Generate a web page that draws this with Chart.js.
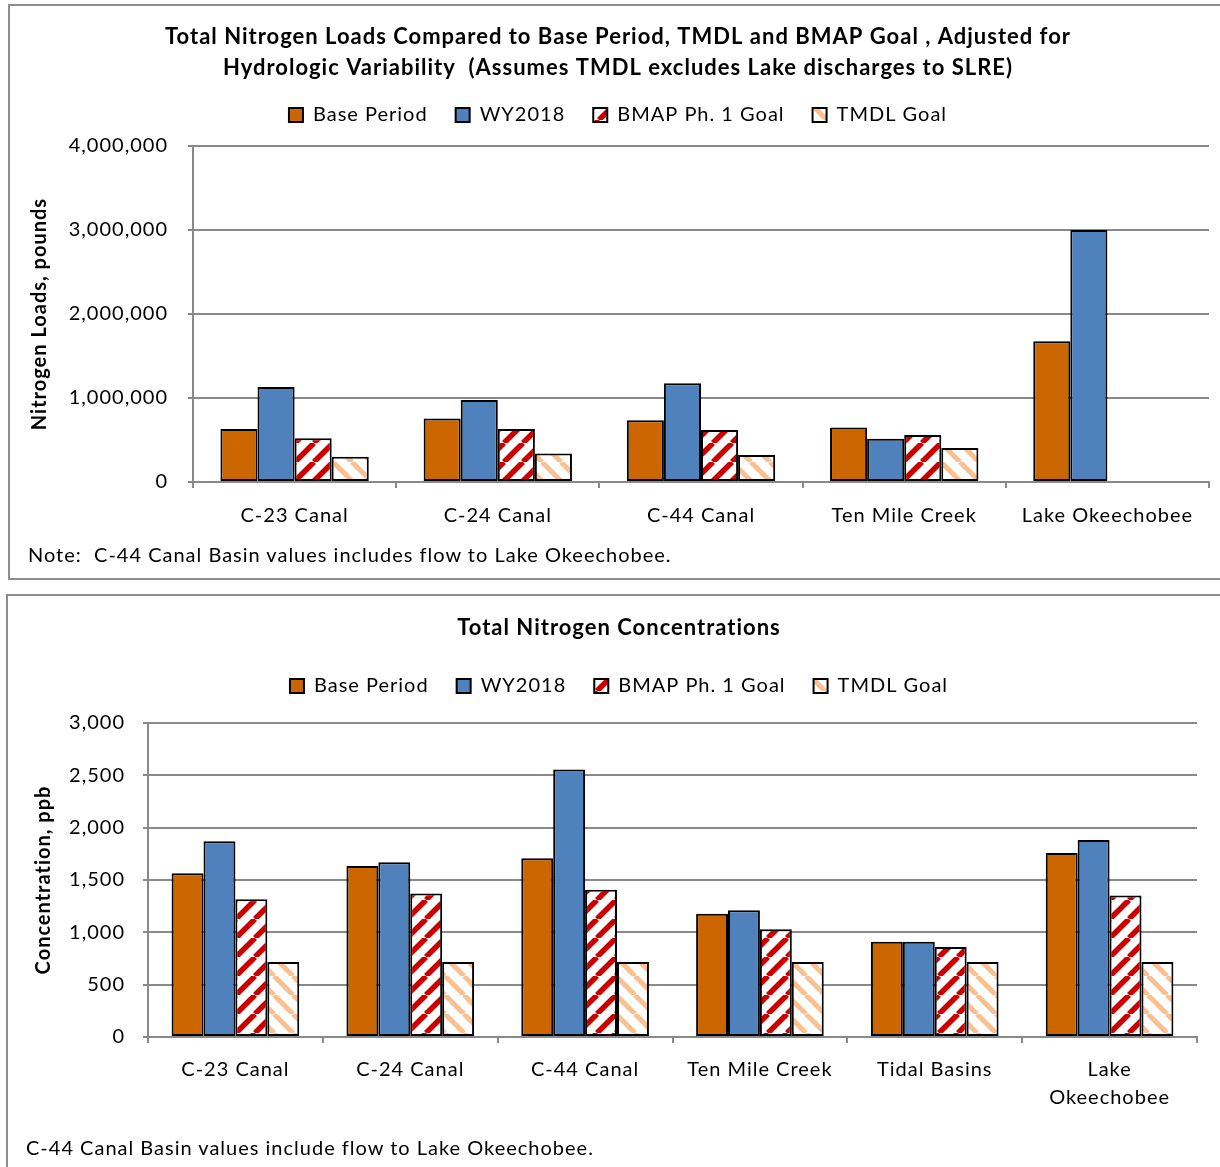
<!DOCTYPE html>
<html>
<head>
<meta charset="utf-8">
<title>Total Nitrogen Loads and Concentrations</title>
<script src="https://cdn.jsdelivr.net/npm/chart.js@4.4.1/dist/chart.umd.min.js"></script>
<style>
  body { margin: 0; background: #fff; width: 1220px; height: 1167px; overflow: hidden; position: relative; font-family: Lato, sans-serif; }
  .frame { position: absolute; border: 2px solid #8c8c8c; background: #fff; }
  #loadsFrame { left: 8px; top: 4px; width: 1230px; height: 572px; }
  #concFrame { left: 6px; top: 594px; width: 1230px; height: 600px; }
  .frame canvas { position: absolute; left: 0; top: 0; }
  .note { position: absolute; font-size: 20px; letter-spacing: 1px; color: #000; white-space: nowrap; line-height: 1; }
</style>
</head>
<body>
<div class="frame" id="loadsFrame">
  <canvas id="loadsChart" width="1220" height="572"></canvas>
  <div class="note" style="left:18px; top:538px;">Note:&nbsp; C-44 Canal Basin values includes flow to Lake Okeechobee.</div>
</div>
<div class="frame" id="concFrame">
  <canvas id="concChart" width="1220" height="571"></canvas>
  <div class="note" style="left:18px; top:541px;">C-44 Canal Basin values include flow to Lake Okeechobee.</div>
</div>
<script>
const seriesNames = ["Base Period", "WY2018", "BMAP Ph. 1 Goal", "TMDL Goal"];

// loads, pounds (adjusted for hydrologic variability)
const loadCategories = ["C-23 Canal", "C-24 Canal", "C-44 Canal", "Ten Mile Creek", "Lake Okeechobee"];
const loadBase = [630000, 755000, 735000, 650000, 1677000];
const loadWY2018 = [1130000, 975000, 1175000, 515000, 3000000];
const loadBmap = [520000, 630000, 620000, 560000, null];
const loadTmdl = [300000, 340000, 320000, 405000, null];

// concentrations, ppb
const concCategories = ["C-23 Canal", "C-24 Canal", "C-44 Canal", "Ten Mile Creek", "Tidal Basins", ["Lake", "Okeechobee"]];
const concBase = [1565, 1635, 1708, 1178, 911, 1759];
const concWY2018 = [1870, 1670, 2555, 1210, 911, 1883];
const concBmap = [1317, 1371, 1406, 1029, 860, 1352];
const concTmdl = [717, 717, 717, 717, 717, 717];

const orange = "#cc6600";
const blue = "#4f81bd";
const grey = "#898989";
const black = "#000000";

Chart.defaults.font.family = "Lato, 'Open Sans', sans-serif";
Chart.defaults.font.size = 20;
Chart.defaults.color = black;

// slightly looser text, set before layout (measuring) and before drawing
const textSpacing = {
  id: "textSpacing",
  beforeUpdate(chart) { chart.ctx.letterSpacing = "1px"; },
  beforeDraw(chart) { chart.ctx.letterSpacing = "1px"; }
};

// diagonal hatch: "/" rises to the right, "\" falls to the right
function stripes(color, dir, size, width) {
  const c = document.createElement("canvas");
  c.width = c.height = size;
  const g = c.getContext("2d");
  g.fillStyle = "#fff";
  g.fillRect(0, 0, size, size);
  g.strokeStyle = color;
  g.lineWidth = width;
  g.beginPath();
  for (let k = -1; k <= 1; k++) {
    if (dir === "/") {
      g.moveTo(k * size, size);
      g.lineTo(k * size + size, 0);
    } else {
      g.moveTo(k * size, 0);
      g.lineTo(k * size + size, size);
    }
  }
  g.stroke();
  return g.createPattern(c, "repeat");
}

const redHatch = stripes("#cc0000", "/", 19, 5.5);
const peachHatch = stripes("#fac090", "\\", 19, 5);

function barSets(base, wy, bmap, tmdl) {
  const common = { borderColor: black, borderWidth: 2, borderSkipped: false, categoryPercentage: 0.73, barPercentage: 1 };
  return [
    { label: seriesNames[0], data: base, backgroundColor: orange, ...common },
    { label: seriesNames[1], data: wy, backgroundColor: blue, ...common },
    { label: seriesNames[2], data: bmap, backgroundColor: redHatch, ...common },
    { label: seriesNames[3], data: tmdl, backgroundColor: peachHatch, ...common }
  ];
}

function makeOptions(cfg) {
  return {
    responsive: false,
    animation: false,
    layout: { padding: { left: cfg.padLeft, right: cfg.padRight, top: 0, bottom: 0 } },
    plugins: {
      title: {
        display: true,
        text: cfg.title,
        color: black,
        font: { size: 22, weight: "bold", lineHeight: 1.41 },
        padding: { top: cfg.titleTop, bottom: cfg.titleBottom }
      },
      legend: {
        position: "top",
        labels: { boxWidth: 14, boxHeight: 14, padding: 28, color: black, font: { size: 20 } }
      },
      // empty line between legend and plot area
      subtitle: {
        display: true,
        text: "",
        weight: 500,
        font: { size: 1, lineHeight: 1 },
        padding: { top: cfg.gap - 1, bottom: 0 }
      },
      tooltip: { enabled: false }
    },
    scales: {
      x: {
        grid: { display: true, drawOnChartArea: false, color: grey, lineWidth: 2, tickLength: 6 },
        border: { display: true, color: grey, width: 2 },
        ticks: { color: black, padding: cfg.xTickPad, maxRotation: 0, autoSkip: false, font: { size: 20, lineHeight: 1.4 } },
        afterFit: s => { s.height = cfg.xHeight; }
      },
      y: {
        min: 0,
        max: cfg.yMax,
        ticks: { stepSize: cfg.yStep, color: black, padding: cfg.yTickPad, font: { size: 20 } },
        grid: { color: grey, lineWidth: 2, tickLength: 5 },
        border: { display: true, color: grey, width: 2 },
        title: {
          display: true,
          text: cfg.yTitle,
          color: black,
          font: { size: 20, weight: "bold", lineHeight: 1.2 },
          padding: { top: cfg.yTitlePad, bottom: 0 }
        },
        afterFit: s => { s.width = cfg.yWidth; }
      }
    }
  };
}

new Chart(document.getElementById("loadsChart"), {
  type: "bar",
  data: { labels: loadCategories, datasets: barSets(loadBase, loadWY2018, loadBmap, loadTmdl) },
  options: makeOptions({
    title: ["Total Nitrogen Loads Compared to Base Period, TMDL and BMAP Goal , Adjusted for",
            "Hydrologic Variability  (Assumes TMDL excludes Lake discharges to SLRE)"],
    titleTop: 15.5, titleBottom: -6.5, gap: 11,
    padLeft: 17, padRight: 21, yWidth: 166, xHeight: 96,
    yMax: 4000000, yStep: 1000000, yTickPad: 20, xTickPad: 14,
    yTitle: "Nitrogen Loads, pounds", yTitlePad: 1
  }),
  plugins: [textSpacing]
});

new Chart(document.getElementById("concChart"), {
  type: "bar",
  data: { labels: concCategories, datasets: barSets(concBase, concWY2018, concBmap, concTmdl) },
  options: makeOptions({
    title: "Total Nitrogen Concentrations",
    titleTop: 16.5, titleBottom: 4.5, gap: 17,
    padLeft: 33, padRight: 31, yWidth: 107, xHeight: 130,
    yMax: 3000, yStep: 500, yTickPad: 18, xTickPad: 13,
    yTitle: "Concentration, ppb", yTitlePad: -9
  }),
  plugins: [textSpacing]
});
</script>
</body>
</html>
